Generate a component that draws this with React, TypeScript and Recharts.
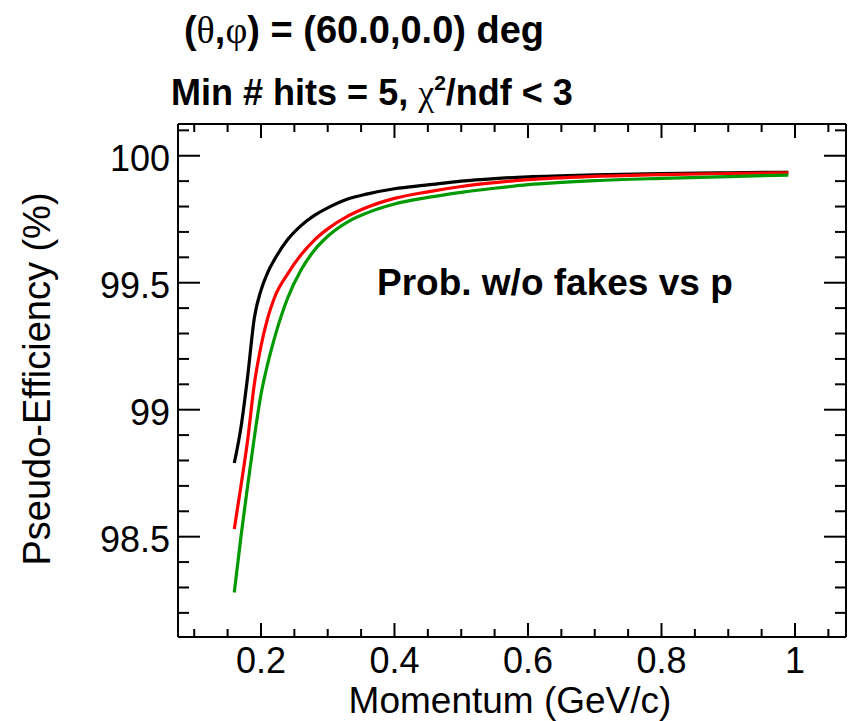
import { LineChart, Line, XAxis, YAxis } from 'recharts';

// momentum points (GeV/c) and pseudo-efficiency (%) for the three curves
const momentum = [0.16, 0.17, 0.18, 0.19, 0.2, 0.21, 0.22, 0.24, 0.26, 0.28, 0.3, 0.33, 0.36, 0.4, 0.45, 0.5, 0.55, 0.6, 0.7, 0.8, 0.9, 0.99];
const effBlack = [98.79, 98.93, 99.13, 99.36, 99.47, 99.54, 99.59, 99.67, 99.725, 99.765, 99.795, 99.83, 99.85, 99.87, 99.885, 99.9, 99.91, 99.917, 99.925, 99.93, 99.933, 99.935];
const effRed = [98.53, 98.7, 98.88, 99.1, 99.25, 99.36, 99.44, 99.535, 99.61, 99.668, 99.712, 99.762, 99.798, 99.832, 99.858, 99.879, 99.894, 99.906, 99.919, 99.926, 99.93, 99.933];
const effGreen = [98.28, 98.5, 98.7, 98.89, 99.06, 99.18, 99.28, 99.44, 99.55, 99.628, 99.683, 99.74, 99.776, 99.81, 99.836, 99.856, 99.872, 99.886, 99.902, 99.911, 99.918, 99.924];

const xMajorTicks = [0.2, 0.4, 0.6, 0.8, 1];
const xTickLabels = ['0.2', '0.4', '0.6', '0.8', '1'];
const xMinorTicks = [0.1, 0.15, 0.25, 0.3, 0.35, 0.45, 0.5, 0.55, 0.65, 0.7, 0.75, 0.85, 0.9, 0.95, 1.05];
const yMajorTicks = [98.5, 99, 99.5, 100];
const yTickLabels = ['98.5', '99', '99.5', '100'];
const yMinorTicks = [98.2, 98.3, 98.4, 98.6, 98.7, 98.8, 98.9, 99.1, 99.2, 99.3, 99.4, 99.6, 99.7, 99.8, 99.9, 100.1];

const xDomain = [0.0757, 1.0764];
const yDomain = [98.105, 100.125];

const data = momentum.map((p, i) => ({ p, black: effBlack[i], red: effRed[i], green: effGreen[i] }));
const xTicks = [...xMajorTicks, ...xMinorTicks].sort((a, b) => a - b);
const yTicks = [...yMajorTicks, ...yMinorTicks].sort((a, b) => a - b);

const FONT = '"Liberation Sans", Arial, Helvetica, sans-serif';
const SERIF = '"Liberation Serif", "Times New Roman", serif';

const majorIndex = (v: number, majors: number[]) => majors.findIndex((m) => Math.abs(m - v) < 1e-6);

function BottomTick(props: any) {
  const { x, y, payload } = props;
  const idx = majorIndex(payload.value, xMajorTicks);
  return (
    <g>
      <line x1={x} x2={x} y1={y} y2={y - (idx >= 0 ? 14 : 8)} stroke="#000" strokeWidth={2} />
      {idx >= 0 && (
        <text x={x} y={y + 36} textAnchor="middle" fontSize={36} fontFamily={FONT} fill="#000">
          {xTickLabels[idx]}
        </text>
      )}
    </g>
  );
}

function TopTick(props: any) {
  const { x, y, payload } = props;
  const major = majorIndex(payload.value, xMajorTicks) >= 0;
  return <line x1={x} x2={x} y1={y} y2={y + (major ? 14 : 8)} stroke="#000" strokeWidth={2} />;
}

function LeftTick(props: any) {
  const { x, y, payload } = props;
  const idx = majorIndex(payload.value, yMajorTicks);
  return (
    <g>
      <line x1={x} x2={x + (idx >= 0 ? 22 : 11)} y1={y} y2={y} stroke="#000" strokeWidth={2} />
      {idx >= 0 && (
        <text x={x - 8} y={y + 15} textAnchor="end" fontSize={36} fontFamily={FONT} fill="#000">
          {yTickLabels[idx]}
        </text>
      )}
    </g>
  );
}

function RightTick(props: any) {
  const { x, y, payload } = props;
  const major = majorIndex(payload.value, yMajorTicks) >= 0;
  return <line x1={x} x2={x - (major ? 22 : 11)} y1={y} y2={y} stroke="#000" strokeWidth={2} />;
}

export default function App() {
  const axisLine = { stroke: '#000', strokeWidth: 2 };
  return (
    <div style={{ position: 'absolute', left: 0, top: 0, width: 849, height: 721, background: '#fff' }}>
      <LineChart width={849} height={721} data={data} margin={{ top: 123, right: 2, bottom: 83, left: 177 }}>
        <XAxis xAxisId="bottom" dataKey="p" type="number" domain={xDomain} allowDataOverflow ticks={xTicks}
          interval={0} height={1} tickSize={0} tickMargin={0} tickLine={false} axisLine={axisLine} tick={<BottomTick />} />
        <XAxis xAxisId="top" orientation="top" dataKey="p" type="number" domain={xDomain} allowDataOverflow ticks={xTicks}
          interval={0} height={1} tickSize={0} tickMargin={0} tickLine={false} axisLine={axisLine} tick={<TopTick />} />
        <YAxis yAxisId="left" type="number" domain={yDomain} allowDataOverflow ticks={yTicks}
          interval={0} width={1} tickSize={0} tickMargin={0} tickLine={false} axisLine={axisLine} tick={<LeftTick />} />
        <YAxis yAxisId="right" orientation="right" type="number" domain={yDomain} allowDataOverflow ticks={yTicks}
          interval={0} width={1} tickSize={0} tickMargin={0} tickLine={false} axisLine={axisLine} tick={<RightTick />} />
        <Line xAxisId="bottom" yAxisId="left" type="monotone" dataKey="black" stroke="#000000" strokeWidth={3.2} dot={false} isAnimationActive={false} />
        <Line xAxisId="bottom" yAxisId="left" type="monotone" dataKey="red" stroke="#ff0000" strokeWidth={3.2} dot={false} isAnimationActive={false} />
        <Line xAxisId="bottom" yAxisId="left" type="monotone" dataKey="green" stroke="#009a00" strokeWidth={3.2} dot={false} isAnimationActive={false} />
      </LineChart>
      <svg width={849} height={721} style={{ position: 'absolute', left: 0, top: 0, pointerEvents: 'none' }}>
        <text x={364} y={43} textAnchor="middle" fontSize={38} fontWeight="bold" fontFamily={FONT} fill="#000">
          (<tspan fontFamily={SERIF} fontWeight="normal">θ</tspan>,<tspan fontFamily={SERIF} fontWeight="normal">φ</tspan>) = (60.0,0.0) deg
        </text>
        <text x={372} y={105} textAnchor="middle" fontSize={36} fontWeight="bold" fontFamily={FONT} fill="#000">
          Min # hits = 5, <tspan fontFamily={SERIF} fontWeight="normal">χ</tspan>
          <tspan fontSize={21} dy={-15}>2</tspan>
          <tspan dy={15}>/ndf &lt; 3</tspan>
        </text>
        <text x={377} y={295} fontSize={37} fontWeight="bold" fontFamily={FONT} fill="#000">Prob. w/o fakes vs p</text>
        <text x={510} y={713} textAnchor="middle" fontSize={37} fontFamily={FONT} fill="#000">Momentum (GeV/c)</text>
        <text transform="translate(50,379) rotate(-90)" textAnchor="middle" fontSize={38} fontFamily={FONT} fill="#000">
          Pseudo-Efficiency (%)
        </text>
      </svg>
    </div>
  );
}
